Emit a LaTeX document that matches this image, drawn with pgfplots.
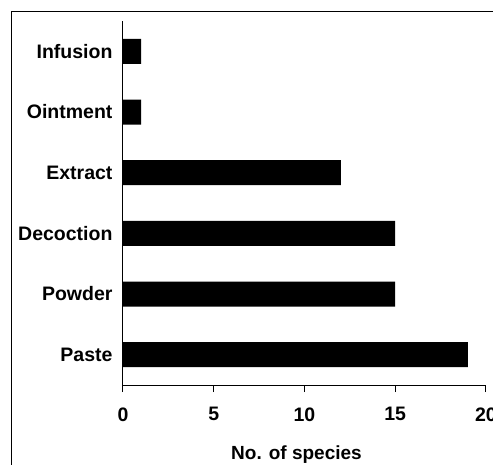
\documentclass[border=0pt]{standalone}
\usepackage{fontspec}
\setmainfont{Liberation Sans}
\usepackage{pgfplots}
\pgfplotsset{compat=1.18}
\begin{document}
\begin{tikzpicture}
\clip (0pt,0pt) rectangle (493pt,-465pt);
\fill[white] (0pt,0pt) rectangle (493pt,-465pt);
\draw[line width=1pt] (11pt,-12pt) rectangle (530pt,-530pt);
\begin{axis}[
  at={(123pt,-385pt)}, anchor=south west,
  scale only axis, width=363pt, height=364pt,
  xbar, bar width=25pt,
  xmin=0, xmax=20, ymin=-0.5, ymax=5.5,
  axis x line*=bottom, axis y line*=left,
  axis line style={line width=1pt, -},
  xtick={0,5,10,15,20},
  ytick={0,1,2,3,4,5},
  yticklabels={Paste,Powder,Decoction,Extract,Ointment,Infusion},
  y tick style={draw=none},
  major tick length=7pt,
  x tick style={line width=1pt, black},
  tick align=outside,
  /pgf/number format/assume math mode=true,
  tick label style={font=\bfseries\fontsize{19.5}{21}\selectfont},
  yticklabel style={xshift=0pt},
  xticklabel style={yshift=-12pt},
  xlabel={No. of species},
  xlabel style={font=\bfseries\fontsize{19}{21}\selectfont, xshift=-8pt, yshift=-18pt},
  clip=false,
]
\addplot[fill=black, draw=none] coordinates {(19,0) (15,1) (15,2) (12,3) (1,4) (1,5)};
\end{axis}
\end{tikzpicture}
\end{document}
